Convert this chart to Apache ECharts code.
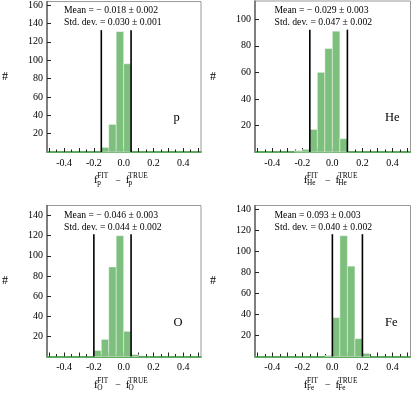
<!DOCTYPE html>
<html lang="en" style="height: 100%">
<head>
<meta charset="UTF-8">
<title>f FIT - f TRUE</title>
<script src="https://cdn.jsdelivr.net/npm/echarts@6/dist/echarts.min.js"></script>
</head>
<body style="height: 100%; margin: 0">
<div id="main" style="width: 411px; height: 393px"></div>
<script>
// left edges of the histogram bins (width 0.05)
var binLeft = [-0.25, -0.2, -0.15, -0.1, -0.05, 0, 0.05, 0.1, 0.15, 0.2];
var binWidth = 0.05;

var countsP  = [0, 0, 5, 30, 131, 96, 0, 0, 0, 0];
var countsHe = [1, 2, 17, 60, 78, 91, 10, 0, 0, 0];
var countsO  = [0, 6, 17, 89, 120, 25, 2, 0, 0, 0];
var countsFe = [0, 0, 0, 0, 1, 37, 115, 86, 17, 3];

var cutsP  = [-0.15, 0.05];
var cutsHe = [-0.15, 0.1];
var cutsO  = [-0.2, 0.05];
var cutsFe = [0.0, 0.2];

var names = ['p', 'He', 'O', 'Fe'];
var means = ['\u2212 0.018 \u00b1 0.002', '\u2212 0.029 \u00b1 0.003', '\u2212 0.046 \u00b1 0.003', '0.093 \u00b1 0.003'];
var stds  = ['0.030 \u00b1 0.001', '0.047 \u00b1 0.002', '0.044 \u00b1 0.002', '0.040 \u00b1 0.002'];

var yTicksP  = [20, 40, 60, 80, 100, 120, 140, 160];
var yTicksHe = [20, 40, 60, 80, 100];
var yTicksO  = [20, 40, 60, 80, 100, 120, 140];
var yTicksFe = [20, 40, 60, 80, 100, 120, 140];

var xLabels = [-0.4, -0.2, 0, 0.2, 0.4];
var xMajor = [-0.5, -0.4, -0.3, -0.2, -0.1, 0, 0.1, 0.2, 0.3, 0.4, 0.5];
var xMinor = [-0.45, -0.35, -0.25, -0.15, -0.05, 0.05, 0.15, 0.25, 0.35, 0.45];

var counts = [countsP, countsHe, countsO, countsFe];
var cuts = [cutsP, cutsHe, cutsO, cutsFe];
var yTicks = [yTicksP, yTicksHe, yTicksO, yTicksFe];

var green = '#7dbf7d';
var serif = 'Liberation Serif';

var grids = [
    {left: 44.5, top: 1, width: 156.5, height: 151},
    {left: 255, top: 1, width: 155.5, height: 151},
    {left: 44.5, top: 205.5, width: 156.5, height: 151},
    {left: 255, top: 205.5, width: 155.5, height: 151}
];

var xAxes = [], yAxes = [], series = [], graphics = [];

function histItem(params, api) {
    var c = api.value(2);
    if (!c) return null;
    var p0 = api.coord([api.value(0), c]);
    var p1 = api.coord([api.value(1), 0]);
    return {
        type: 'rect',
        shape: {x: p0[0], y: p0[1], width: p1[0] - p0[0], height: p1[1] - p0[1]},
        style: {fill: green, stroke: 'rgba(255,255,255,0.7)', lineWidth: 0.6}
    };
}

function cutItem(params, api) {
    var p0 = api.coord([api.value(0), 0]);
    var p1 = api.coord([api.value(0), api.value(1)]);
    return {
        type: 'line',
        shape: {x1: p0[0], y1: p0[1], x2: p1[0], y2: p1[1]},
        style: {stroke: '#000', lineWidth: 1.6}
    };
}

function txt(s, x, y, size) {
    return {
        type: 'text', silent: true,
        style: {text: s, x: x, y: y, font: size + 'px "' + serif + '"', fill: '#000',
                textAlign: 'left', textVerticalAlign: 'middle', align: 'left', verticalAlign: 'middle'}
    };
}

for (var i = 0; i < 4; i++) {
    var g = grids[i];
    var ymax = Math.max.apply(null, counts[i]) * 1.25;

    xAxes.push({
        gridIndex: i, type: 'value', min: -0.515, max: 0.52,
        axisLine: {show: true, onZero: false, lineStyle: {color: '#5fa85f', width: 1.8}},
        axisTick: {show: true, inside: true, length: 4, customValues: xMajor, lineStyle: {color: '#222', width: 1}},
        axisLabel: {customValues: xLabels, margin: 6, fontFamily: serif, fontSize: 10, color: '#000',
                    formatter: function (v) { return v.toFixed(1); }},
        splitLine: {show: false}
    });
    xAxes.push({
        gridIndex: i, type: 'value', min: -0.515, max: 0.52, position: 'bottom',
        axisLine: {show: false, onZero: false},
        axisTick: {show: true, inside: true, length: 2.5, customValues: xMinor, lineStyle: {color: '#222', width: 1}},
        axisLabel: {show: false},
        splitLine: {show: false}
    });
    yAxes.push({
        gridIndex: i, type: 'value', min: 0, max: ymax,
        name: '#', nameLocation: 'middle', nameRotate: 0, nameGap: 39,
        nameTextStyle: {fontFamily: serif, fontSize: 12, color: '#000'},
        axisLine: {show: true, onZero: false, lineStyle: {color: '#666', width: 1.5}},
        axisTick: {show: true, inside: true, length: 4, customValues: yTicks[i], lineStyle: {color: '#222'}},
        axisLabel: {customValues: yTicks[i], margin: 4, fontFamily: serif, fontSize: 10, color: '#000'},
        splitLine: {show: false}
    });

    var hist = counts[i].map(function (c, k) { return [binLeft[k], binLeft[k] + binWidth, c]; });
    series.push({
        type: 'custom', xAxisIndex: 2 * i, yAxisIndex: i, renderItem: histItem,
        encode: {x: [0, 1], y: 2}, data: hist, silent: true
    });
    series.push({
        type: 'custom', xAxisIndex: 2 * i, yAxisIndex: i, renderItem: cutItem,
        encode: {x: 0, y: 1}, silent: true, z: 5,
        data: cuts[i].map(function (x) { return [x, ymax * 0.81]; })
    });

    // annotations
    var sx = g.left + 19.5;
    var sy = g.top + 9.5;
    graphics.push(txt('Mean = ' + means[i], sx, sy, 9.7));
    graphics.push(txt('Std. dev. = ' + stds[i], sx, sy + 12, 9.7));
    graphics.push(txt(names[i], g.left + (i % 2 ? 130 : 129), g.top + 117, 12.5));

    // x axis title f_X^FIT - f_X^TRUE
    var cx = g.left + (i % 2 ? 77 : 77.8);
    var x0 = cx - 28.3;
    var ty = g.top + 179.5;
    graphics.push(txt('f', x0, ty, 11));
    graphics.push(txt('FIT', x0 + 3.2, ty - 4, 7.3));
    graphics.push(txt(names[i], x0 + 3.2, ty + 3, 7.3));
    graphics.push(txt('\u2212', x0 + 21.3, ty + 0.5, 10));
    graphics.push(txt('f', x0 + 31.7, ty, 11));
    graphics.push(txt('TRUE', x0 + 34.6, ty - 4, 7.3));
    graphics.push(txt(names[i], x0 + 34.6, ty + 3, 7.3));
}

var option = {
    animation: false,
    grid: grids.map(function (g) {
        return {left: g.left, top: g.top, width: g.width, height: g.height,
                show: true, borderColor: '#999', borderWidth: 1, backgroundColor: 'transparent'};
    }),
    xAxis: xAxes,
    yAxis: yAxes,
    series: series,
    graphic: graphics
};

var myChart = echarts.init(document.getElementById('main'));
myChart.setOption(option);
</script>
</body>
</html>
